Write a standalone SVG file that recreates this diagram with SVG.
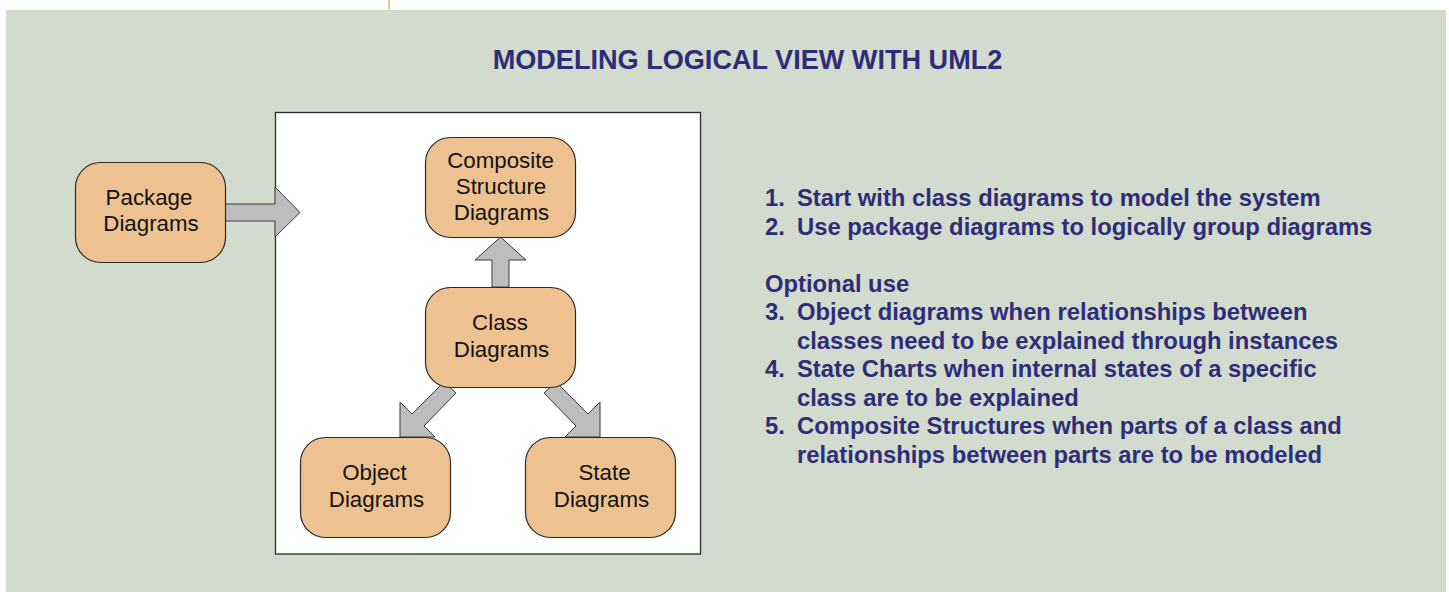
<svg xmlns="http://www.w3.org/2000/svg" width="1449" height="592" viewBox="0 0 1449 592">
<defs>
<style>
.node rect{fill:#eec290;stroke:#2a2a2a;stroke-width:1.2}
.node text{font-family:"Liberation Sans",Arial,sans-serif;font-size:22.3px;fill:#111;text-anchor:middle}
.arrow{fill:#bdbdbd;stroke:#3a3a3a;stroke-width:1}
.title{font-family:"Liberation Sans",Arial,sans-serif;font-size:27.1px;font-weight:bold;fill:#2e2d78;text-anchor:middle}
.list{font-family:"Liberation Sans",Arial,sans-serif;font-size:23.8px;font-weight:bold;fill:#2e2d78}
</style>
</defs>
<rect x="0" y="0" width="1449" height="592" fill="#ffffff"/>
<rect x="6" y="10" width="1440" height="590" fill="#d3dbcf"/>
<line x1="389" y1="0" x2="389" y2="10" stroke="#f0c08a" stroke-width="1.8"/>
<text class="title" x="747.5" y="69">MODELING LOGICAL VIEW WITH UML2</text>
<rect id="container" x="275.5" y="112.5" width="425" height="441.5" fill="#ffffff" stroke="#2a2a2a" stroke-width="1.3"/>
<g id="connectors">
<polygon class="arrow" points="225,204 275,204 275,187 300,212.5 275,237 275,221 225,221"/>
<polygon class="arrow" points="492,287 492,260 475,260 500.5,237 526,260 509,260 509,287"/>
<polygon class="arrow" points="444,382 456,393 424,426 435,437 400,437 400,402 412,414"/>
<polygon class="arrow" points="556,382 544,393 576,426 565,437 600,437 600,402 588,414"/>
</g>
<g id="package" class="node">
<rect x="75.5" y="162.5" width="150" height="100" rx="25" ry="25"/>
<text x="149" y="205">Package</text>
<text x="151" y="231">Diagrams</text>
</g>
<g id="composite" class="node">
<rect x="425.5" y="137.5" width="150" height="100" rx="25" ry="25"/>
<text x="500.5" y="168">Composite</text>
<text x="501" y="194">Structure</text>
<text x="501.5" y="220">Diagrams</text>
</g>
<g id="class" class="node">
<rect x="425.5" y="287.5" width="150" height="100" rx="25" ry="25"/>
<text x="500" y="330">Class</text>
<text x="501.5" y="356.5">Diagrams</text>
</g>
<g id="object" class="node">
<rect x="300.5" y="437.5" width="150" height="100" rx="25" ry="25"/>
<text x="374.5" y="480">Object</text>
<text x="376.5" y="507">Diagrams</text>
</g>
<g id="state" class="node">
<rect x="525.5" y="437.5" width="150" height="100" rx="25" ry="25"/>
<text x="604.5" y="480">State</text>
<text x="601.5" y="507">Diagrams</text>
</g>
<g id="notes" class="list">
<text x="765" y="206">1.</text><text x="797" y="206">Start with class diagrams to model the system</text>
<text x="765" y="234.5">2.</text><text x="797" y="234.5">Use package diagrams to logically group diagrams</text>
<text x="765" y="291.5">Optional use</text>
<text x="765" y="320">3.</text><text x="797" y="320">Object diagrams when relationships between</text>
<text x="797" y="348.5">classes need to be explained through instances</text>
<text x="765" y="377">4.</text><text x="797" y="377">State Charts when internal states of a specific</text>
<text x="797" y="405.5">class are to be explained</text>
<text x="765" y="434">5.</text><text x="797" y="434">Composite Structures when parts of a class and</text>
<text x="797" y="462.5">relationships between parts are to be modeled</text>
</g>
</svg>
